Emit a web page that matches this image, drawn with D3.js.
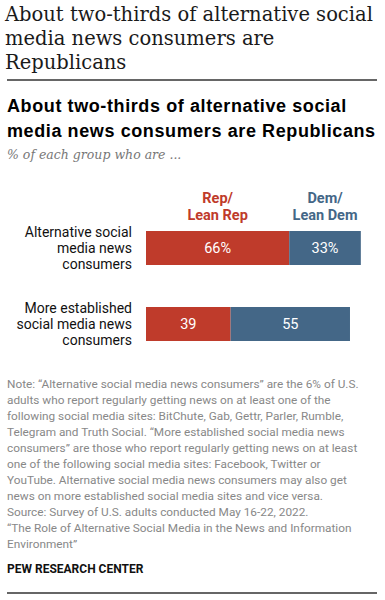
<!DOCTYPE html>
<html>
<head>
<meta charset="utf-8">
<script src="https://cdn.jsdelivr.net/npm/d3@7"></script>
<style>
  body { margin: 0; background: #fff; }
</style>
</head>
<body>
<svg id="chart"></svg>
<script>
// data
let groups = [
    ["Alternative social", "media news", "consumers"],
    ["More established", "social media news", "consumers"]
];
let repValues = [66, 39];
let demValues = [33, 55];
let valueLabels = [["66%", "33%"], ["39", "55"]];
let legendLabels = [["Rep/", "Lean Rep"], ["Dem/", "Lean Dem"]];

let headline = ["About two-thirds of alternative social", "media news consumers are", "Republicans"];
let chartTitle = ["About two-thirds of alternative social", "media news consumers are Republicans"];
let subtitle = "% of each group who are ...";
let noteLines = [
    "Note: \u201cAlternative social media news consumers\u201d are the 6% of U.S.",
    "adults who report regularly getting news on at least one of the",
    "following social media sites: BitChute, Gab, Gettr, Parler, Rumble,",
    "Telegram and Truth Social. \u201cMore established social media news",
    "consumers\u201d are those who report regularly getting news on at least",
    "one of the following social media sites: Facebook, Twitter or",
    "YouTube. Alternative social media news consumers may also get",
    "news on more established social media sites and vice versa.",
    "Source: Survey of U.S. adults conducted May 16-22, 2022.",
    "\u201cThe Role of Alternative Social Media in the News and Information",
    "Environment\u201d"
];

let width = 385;
let height = 600;
let red = "#bf3b2b";
let blue = "#446787";
let sans = "Roboto, 'Liberation Sans', Arial, sans-serif";
let serif = "'DejaVu Serif', Georgia, serif";

let svg = d3.select("#chart")
    .attr("width", width)
    .attr("height", height);

// big headline, sized so the first line spans about 370px like the original
let head = svg.append("g").selectAll("text").data(headline)
    .join("text")
    .attr("x", 5)
    .attr("y", (d, i) => 21 + i * 24)
    .attr("font-family", serif)
    .attr("font-size", "20px")
    .attr("fill", "#1a1a1a")
    .text(d => d);
let headW = head.node().getComputedTextLength();
head.attr("font-size", (20 * 368 / headW) + "px");

svg.append("line")
    .attr("x1", 7).attr("x2", 377)
    .attr("y1", 80).attr("y2", 80)
    .attr("stroke", "#333").attr("stroke-width", 1.5);

svg.append("g").selectAll("text").data(chartTitle)
    .join("text")
    .attr("x", 7)
    .attr("y", (d, i) => 112 + i * 25)
    .attr("font-family", "'Liberation Sans', Arial, sans-serif")
    .attr("font-weight", "bold")
    .attr("font-size", "18px")
    .attr("letter-spacing", "0.6px")
    .attr("fill", "#000")
    .text(d => d);

svg.append("text")
    .attr("x", 7)
    .attr("y", 159)
    .attr("font-family", serif)
    .attr("font-style", "italic")
    .attr("font-size", "12.5px")
    .attr("fill", "#777")
    .text(subtitle);

// bars
let scaleX = d3.scaleLinear()
    .domain([0, 100])
    .range([146, 363]);

let scaleY = d3.scaleBand()
    .domain(d3.range(groups.length))
    .range([231, 341])
    .paddingInner(42 / 76)
    .paddingOuter(0);

let legendY = 203;
svg.append("g").selectAll("g").data(legendLabels)
    .join("g")
    .each(function(d, i) {
        let cx = i === 0 ? scaleX(repValues[0] / 2) : scaleX(repValues[0] + demValues[0] / 2);
        d3.select(this).selectAll("text").data(d)
            .join("text")
            .attr("x", cx)
            .attr("y", (t, j) => legendY + j * 17)
            .attr("text-anchor", "middle")
            .attr("font-family", sans)
            .attr("font-weight", "bold")
            .attr("font-size", "14.5px")
            .attr("fill", i === 0 ? red : blue)
            .text(t => t);
    });

let rows = svg.append("g").selectAll("g").data(groups)
    .join("g")
    .attr("transform", (d, i) => `translate(0, ${scaleY(i)})`);

rows.append("rect")
    .attr("x", scaleX(0))
    .attr("y", 0)
    .attr("width", (d, i) => scaleX(repValues[i]) - scaleX(0))
    .attr("height", scaleY.bandwidth())
    .attr("fill", red);

rows.append("rect")
    .attr("x", (d, i) => scaleX(repValues[i]))
    .attr("y", 0)
    .attr("width", (d, i) => scaleX(repValues[i] + demValues[i]) - scaleX(repValues[i]))
    .attr("height", scaleY.bandwidth())
    .attr("fill", blue);

rows.append("text")
    .attr("x", (d, i) => scaleX(repValues[i] / 2))
    .attr("y", scaleY.bandwidth() / 2 + 5)
    .attr("text-anchor", "middle")
    .attr("font-family", sans)
    .attr("font-size", "14.5px")
    .attr("fill", "#fff")
    .text((d, i) => valueLabels[i][0]);

rows.append("text")
    .attr("x", (d, i) => scaleX(repValues[i] + demValues[i] / 2))
    .attr("y", scaleY.bandwidth() / 2 + 5)
    .attr("text-anchor", "middle")
    .attr("font-family", sans)
    .attr("font-size", "14.5px")
    .attr("fill", "#fff")
    .text((d, i) => valueLabels[i][1]);

// category labels, three lines each
rows.each(function(d, i) {
    d3.select(this).selectAll("text.cat").data(d)
        .join("text")
        .attr("class", "cat")
        .attr("x", 132)
        .attr("y", (t, j) => scaleY.bandwidth() / 2 + 5 + (j - 1) * 16)
        .attr("text-anchor", "end")
        .attr("font-family", sans)
        .attr("font-size", "14px")
        .attr("fill", "#111")
        .text(t => t);
});

// note and source
svg.append("g").selectAll("text").data(noteLines)
    .join("text")
    .attr("x", 7)
    .attr("y", (d, i) => 388 + i * 16)
    .attr("font-family", sans)
    .attr("font-size", "11.8px")
    .attr("fill", "#888")
    .text(d => d);

svg.append("text")
    .attr("x", 7)
    .attr("y", 573)
    .attr("font-family", sans)
    .attr("font-weight", "bold")
    .attr("font-size", "12px")
    .attr("fill", "#111")
    .text("PEW RESEARCH CENTER");

svg.append("line")
    .attr("x1", 7).attr("x2", 377)
    .attr("y1", 593).attr("y2", 593)
    .attr("stroke", "#333").attr("stroke-width", 1.5);
</script>
</body>
</html>
